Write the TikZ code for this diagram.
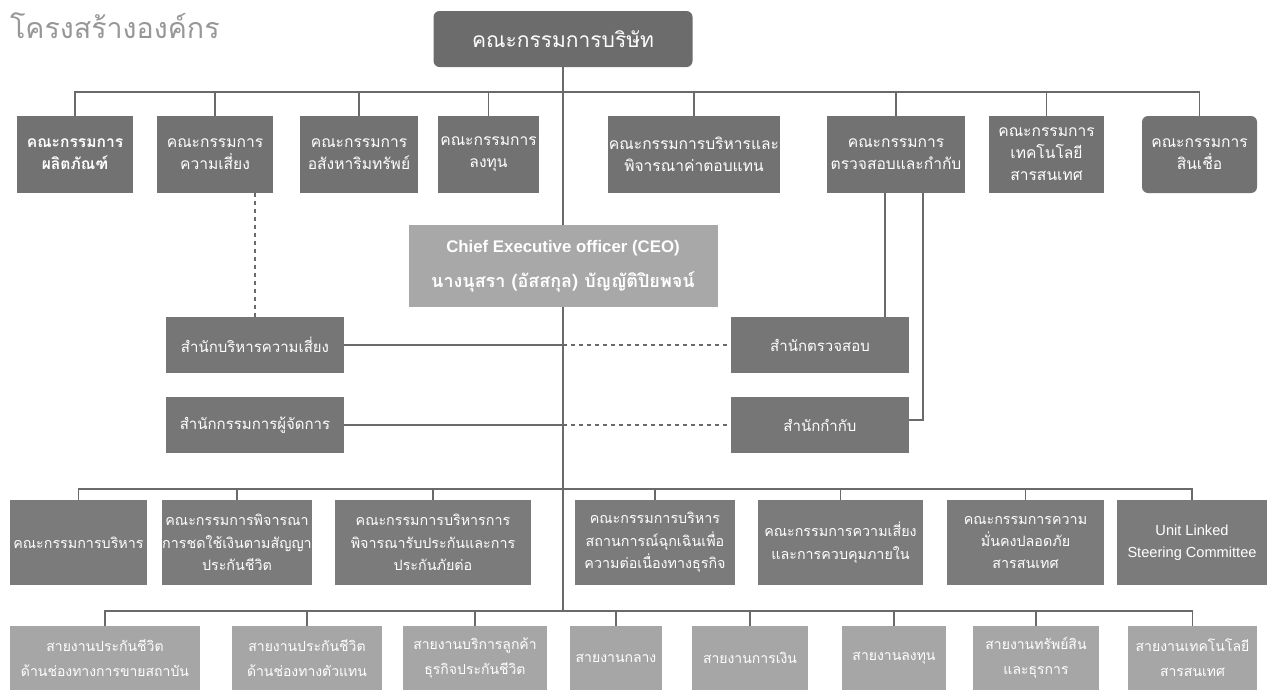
\documentclass[tikz,border=0pt]{standalone}
\usepackage{fontspec}
\setmainfont{Liberation Sans}
\newfontfamily\thai[Script=Thai]{Loma}
\usetikzlibrary{calc}
\definecolor{boardgray}{HTML}{6C6C6C}
\definecolor{topgray}{HTML}{727272}
\definecolor{ceogray}{HTML}{A8A8A8}
\definecolor{officegray}{HTML}{767676}
\definecolor{midgray}{HTML}{7B7B7B}
\definecolor{lowgray}{HTML}{A6A6A6}
\definecolor{linegray}{HTML}{6A6A6A}
\definecolor{titlegray}{HTML}{979797}
\tikzset{
  box/.style={fill=#1, draw=none, text=white, align=center, inner sep=0pt,
    font=\thai\fontsize{7.8}{11}\selectfont},
  box/.default=topgray,
  toprow/.style={box=topgray, minimum height=77*\unitpx},
  office/.style={box=officegray, minimum height=56*\unitpx, font=\thai\fontsize{7.5}{11}\selectfont},
  midrow/.style={box=midgray, minimum height=85*\unitpx, font=\thai\fontsize{7.15}{11.2}\selectfont},
  lowrow/.style={box=lowgray, minimum height=64*\unitpx, font=\thai\fontsize{7}{12.5}\selectfont},
  link/.style={draw=linegray, line width=0.6pt},
  dotlink/.style={link, dash pattern=on 2pt off 2pt}
}
\begin{document}
\begin{tikzpicture}[x=0.5pt,y=-0.5pt]
\pgfmathsetlengthmacro\unitpx{0.5}
\useasboundingbox (0,0) rectangle (1270,692);
\node[anchor=west, text=titlegray, font=\thai\fontsize{14.3}{18}\selectfont] (title) at (3,26) {โครงสร้างองค์กร};
\node[box=boardgray, rounded corners=6*\unitpx, minimum width=259*\unitpx, minimum height=56*\unitpx, font=\thai\fontsize{10.5}{12}\selectfont] (board) at (563,39) {คณะกรรมการบริษัท};
% first row
\node[toprow, minimum width=116*\unitpx, font=\thai\bfseries\fontsize{7.8}{11}\selectfont] (prod) at (75,154.5) {คณะกรรมการ\\ผลิตภัณฑ์};
\node[toprow, minimum width=116*\unitpx] (risk) at (215,154.5) {คณะกรรมการ\\ความเสี่ยง};
\node[toprow, minimum width=118*\unitpx] (asset) at (359,154.5) {คณะกรรมการ\\อสังหาริมทรัพย์};
\node[toprow, minimum width=101*\unitpx] (invest) at (488.5,154.5) {คณะกรรมการ\\ลงทุน};
\node[toprow, minimum width=172*\unitpx] (remun) at (694,154.5) {คณะกรรมการบริหารและ\\พิจารณาค่าตอบแทน};
\node[toprow, minimum width=138*\unitpx] (audit) at (896,154.5) {คณะกรรมการ\\ตรวจสอบและกำกับ};
\node[toprow, minimum width=115*\unitpx] (itc) at (1046.5,154.5) {คณะกรรมการ\\เทคโนโลยี\\สารสนเทศ};
\node[toprow, minimum width=115*\unitpx, rounded corners=6*\unitpx] (credit) at (1199.5,154.5) {คณะกรรมการ\\สินเชื่อ};
% ceo and offices
\node[box=ceogray, minimum width=309*\unitpx, minimum height=82*\unitpx, font=\bfseries\fontsize{8.4}{9}\selectfont] (ceo) at (563,266) {Chief Executive officer (CEO)\\[7pt]{\thai\bfseries\fontsize{9}{11}\selectfont นางนุสรา (อัสสกุล) บัญญัติปิยพจน์}};
\node[office, minimum width=178*\unitpx] (riskoff) at (255,345) {สำนักบริหารความเสี่ยง};
\node[office, minimum width=178*\unitpx] (mdoff) at (255,425) {สำนักกรรมการผู้จัดการ};
\node[office, minimum width=178*\unitpx] (auditoff) at (820,345) {สำนักตรวจสอบ};
\node[office, minimum width=178*\unitpx] (regoff) at (820,425) {สำนักกำกับ};
% second row
\node[midrow, minimum width=137*\unitpx] (exec) at (78.5,542.5) {คณะกรรมการบริหาร};
\node[midrow, minimum width=150*\unitpx] (claim) at (237,542.5) {คณะกรรมการพิจารณา\\การชดใช้เงินตามสัญญา\\ประกันชีวิต};
\node[midrow, minimum width=196*\unitpx] (uw) at (433,542.5) {คณะกรรมการบริหารการ\\พิจารณารับประกันและการ\\ประกันภัยต่อ};
\node[midrow, minimum width=160*\unitpx] (bcm) at (655,542.5) {คณะกรรมการบริหาร\\สถานการณ์ฉุกเฉินเพื่อ\\ความต่อเนื่องทางธุรกิจ};
\node[midrow, minimum width=165*\unitpx] (ric) at (840.5,542.5) {คณะกรรมการความเสี่ยง\\และการควบคุมภายใน};
\node[midrow, minimum width=157*\unitpx] (sec) at (1025.5,542.5) {คณะกรรมการความ\\มั่นคงปลอดภัย\\สารสนเทศ};
\node[midrow, minimum width=150*\unitpx, font=\fontsize{7.3}{11}\selectfont] (unit) at (1192,542.5) {Unit Linked\\Steering Committee};
% third row
\node[lowrow, minimum width=190*\unitpx] (lifeinst) at (105,658) {สายงานประกันชีวิต\\ด้านช่องทางการขายสถาบัน};
\node[lowrow, minimum width=150*\unitpx] (lifeagent) at (307,658) {สายงานประกันชีวิต\\ด้านช่องทางตัวแทน};
\node[lowrow, minimum width=144*\unitpx] (service) at (475,658) {สายงานบริการลูกค้า\\ธุรกิจประกันชีวิต};
\node[lowrow, minimum width=92*\unitpx] (central) at (616,658) {สายงานกลาง};
\node[lowrow, minimum width=116*\unitpx] (finance) at (750,658) {สายงานการเงิน};
\node[lowrow, minimum width=104*\unitpx] (invline) at (894,658) {สายงานลงทุน};
\node[lowrow, minimum width=126*\unitpx] (admin) at (1036,658) {สายงานทรัพย์สิน\\และธุรการ};
\node[lowrow, minimum width=129*\unitpx] (itline) at (1192.5,658) {สายงานเทคโนโลยี\\สารสนเทศ};
% buses
\coordinate (topbus) at (563,92);
\coordinate (midbus) at (563,489);
\coordinate (lowbus) at (563,611);
\draw[link] (board.south) -- (ceo.north);
\draw[link] (ceo.south) -- (lowbus);
\draw[link] (prod.north) |- (topbus) -| (credit.north);
\foreach \n in {risk,asset,invest,remun,audit,itc} \draw[link] (\n.north) -- (\n.north |- topbus);
\draw[link] (exec.north) |- (midbus) -| (unit.north);
\foreach \n in {claim,uw,bcm,ric,sec} \draw[link] (\n.north) -- (\n.north |- midbus);
\draw[link] (lifeinst.north) |- (lowbus) -| (itline.north);
\foreach \n in {lifeagent,service,central,finance,invline,admin} \draw[link] (\n.north) -- (\n.north |- lowbus);
% offices
\foreach \l/\r in {riskoff/auditoff,mdoff/regoff} {
  \draw[link] (\l.east) -- (\l.east -| ceo.south);
  \draw[dotlink] (\l.east -| ceo.south) -- (\r.west);
}
\draw[dotlink] (riskoff.north) -- (riskoff.north |- risk.south);
\draw[link] ([xshift=-11*\unitpx]audit.south) -- ([xshift=-11*\unitpx]audit.south |- auditoff.north);
\draw[link] ([xshift=27*\unitpx]audit.south) |- ([yshift=5*\unitpx]regoff.east);
\end{tikzpicture}
\end{document}
